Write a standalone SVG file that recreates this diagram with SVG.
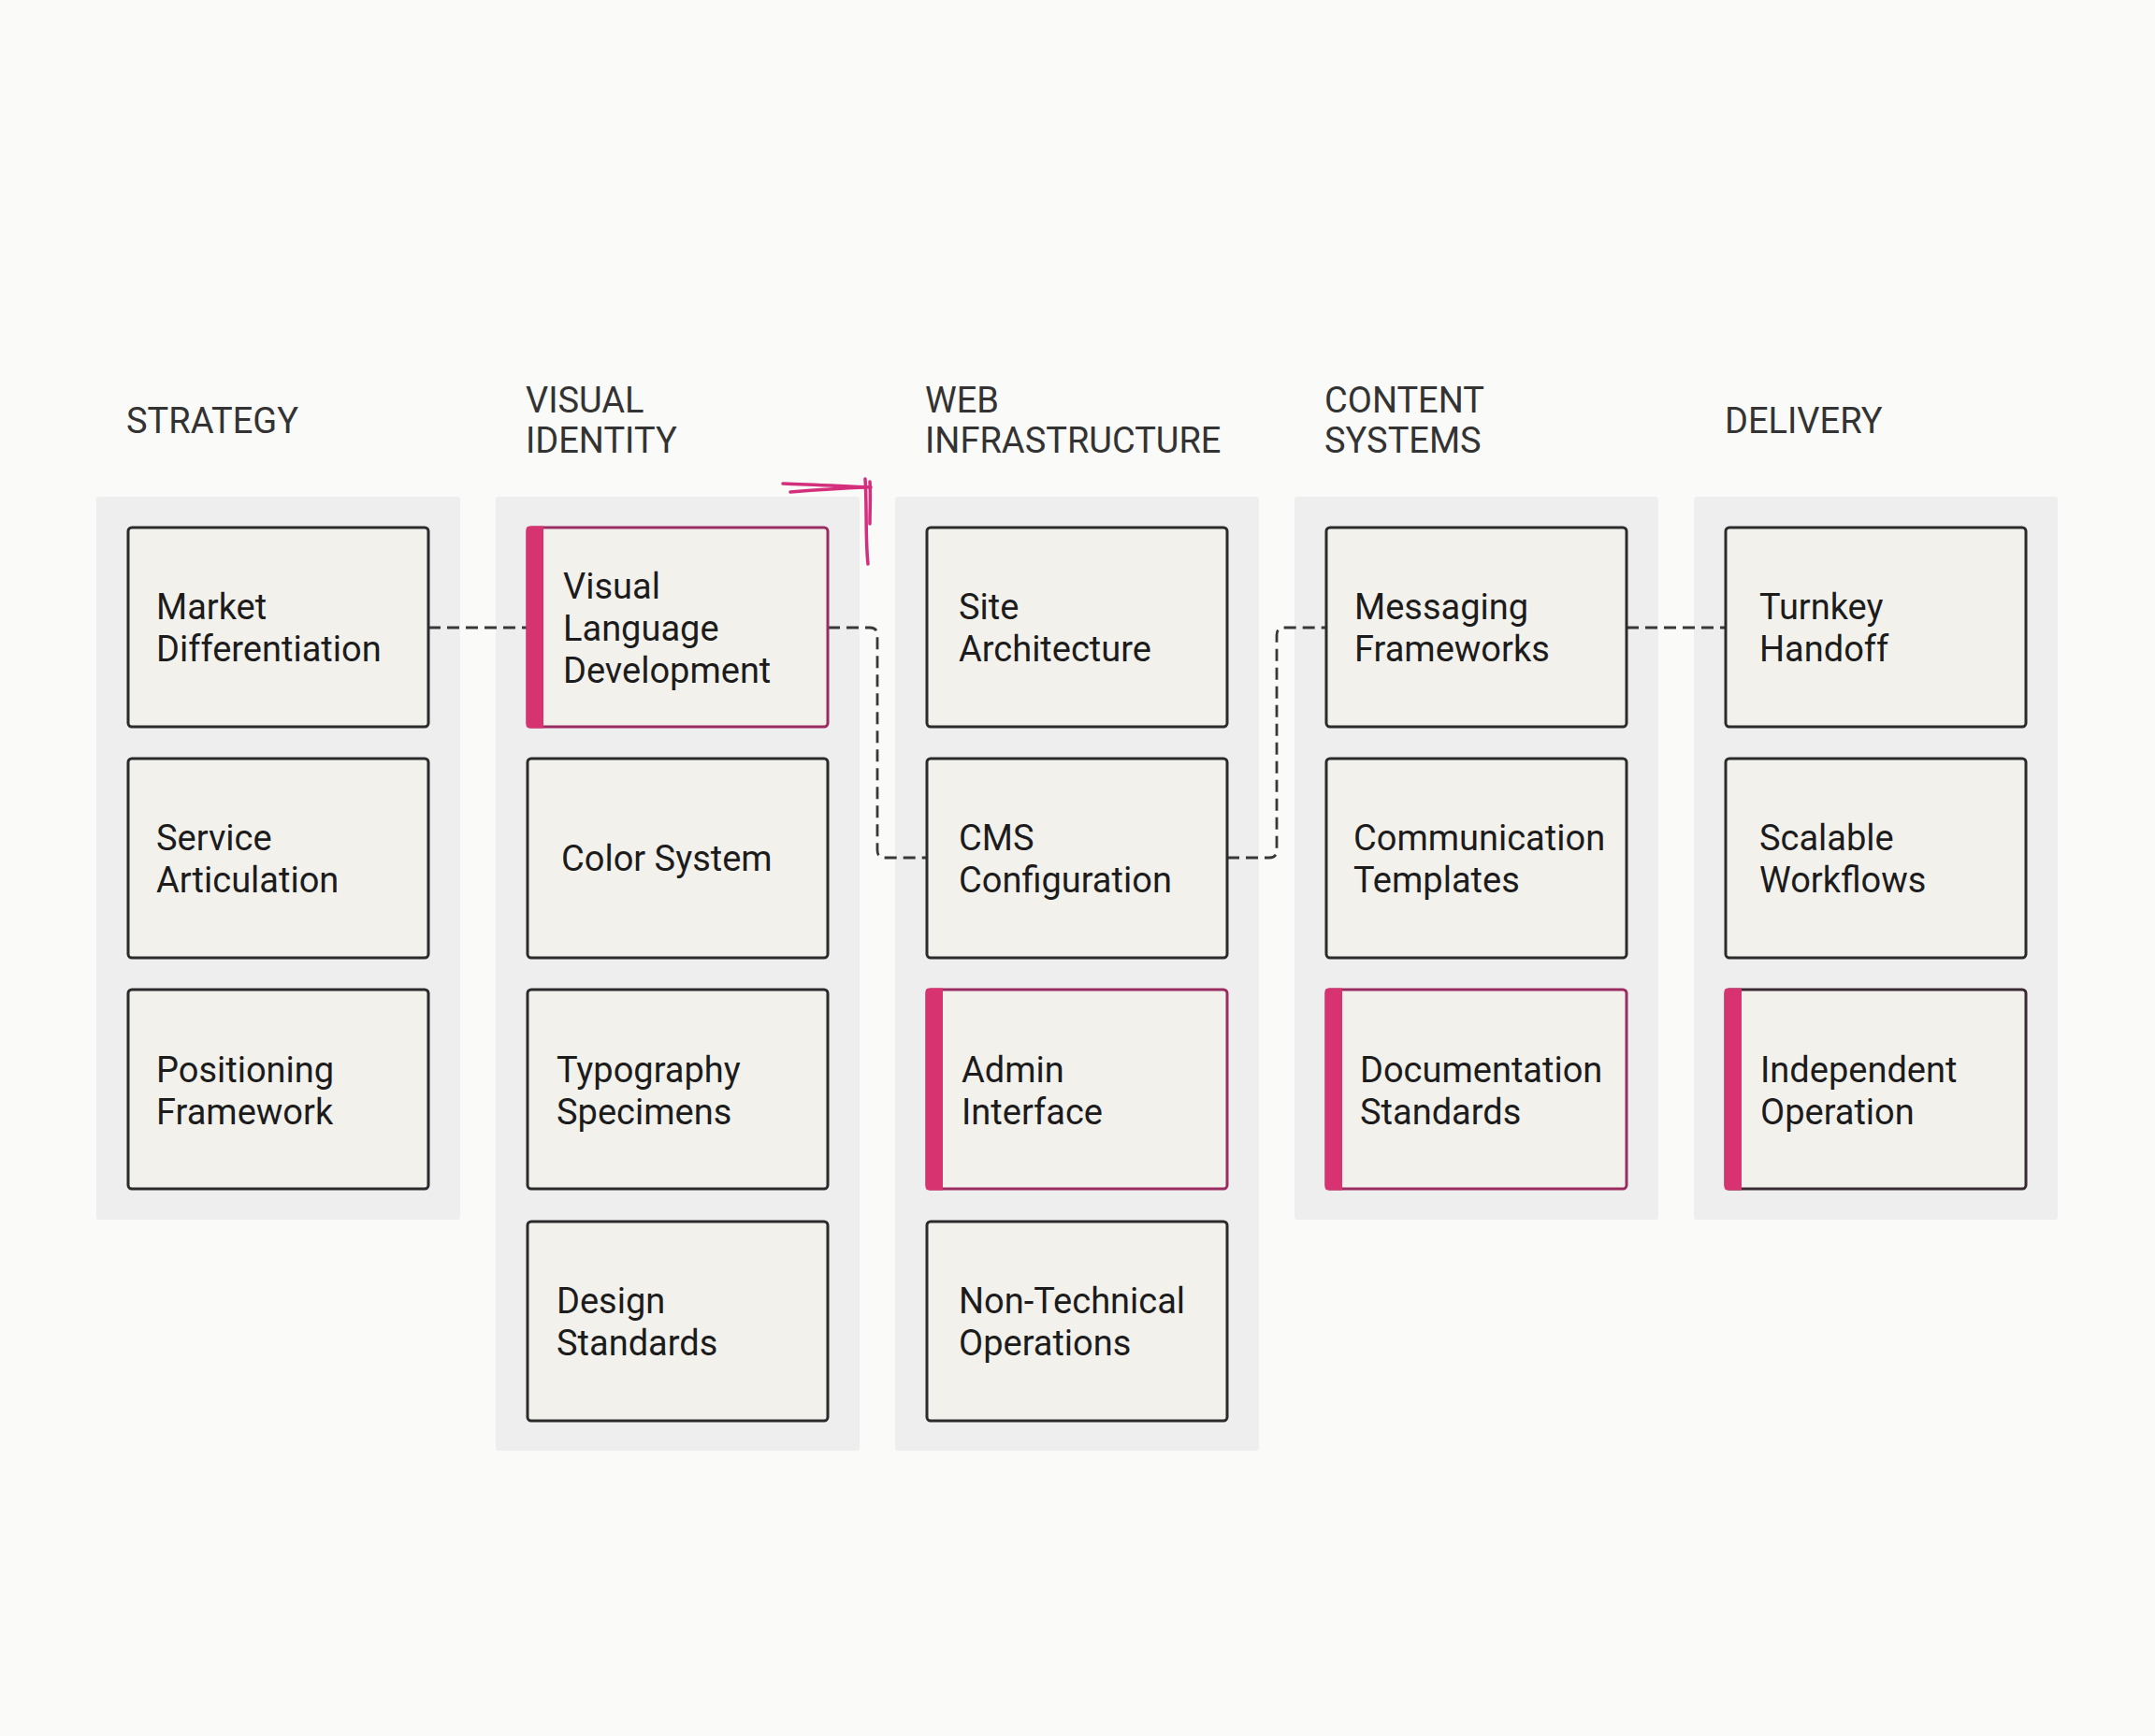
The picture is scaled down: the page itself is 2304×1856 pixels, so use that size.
<svg xmlns="http://www.w3.org/2000/svg" width="2304" height="1856" viewBox="0 0 2304 1856">
<style>
.bg{fill:#fafaf8}
.panel{fill:#eeeeee}
.box{fill:#f3f1ec;stroke:#2b2b2b;stroke-width:3}
.hl{fill:#f3f1ec;stroke:#9a2c62;stroke-width:3}
.hl2{fill:#f3f1ec;stroke:#3a2a32;stroke-width:3}
.bar{fill:#d63370}
.hdr{font-family:Roboto,'Liberation Sans',sans-serif;font-size:38px;fill:#333333}
.lbl{font-family:Roboto,'Liberation Sans',sans-serif;font-size:38px;fill:#1c1c1c}
.conn{fill:none;stroke:#383838;stroke-width:2.8;stroke-dasharray:13 7}
.mark{fill:none;stroke:#d42f7d;stroke-width:3.5;stroke-linecap:round}
</style>
<rect class="bg" x="0" y="0" width="2304" height="1856"/>

<g id="headers">
<text class="hdr" x="135" y="463">STRATEGY</text>
<text class="hdr" x="562" y="441">VISUAL</text>
<text class="hdr" x="562" y="484">IDENTITY</text>
<text class="hdr" x="989" y="441">WEB</text>
<text class="hdr" x="989" y="484">INFRASTRUCTURE</text>
<text class="hdr" x="1416" y="441">CONTENT</text>
<text class="hdr" x="1416" y="484">SYSTEMS</text>
<text class="hdr" x="1844" y="463">DELIVERY</text>
</g>

<g id="panels">
<rect id="panel-strategy" class="panel" x="103" y="531" width="389" height="773" rx="3"/>
<rect id="panel-visual" class="panel" x="530" y="531" width="389" height="1020" rx="3"/>
<rect id="panel-web" class="panel" x="957" y="531" width="389" height="1020" rx="3"/>
<rect id="panel-content" class="panel" x="1384" y="531" width="389" height="773" rx="3"/>
<rect id="panel-delivery" class="panel" x="1811" y="531" width="389" height="773" rx="3"/>
</g>

<g id="connectors">
<path class="conn" d="M458,671 H564"/>
<path class="conn" d="M885,671 H930 Q938,671 938,679 V909 Q938,917 946,917 H991"/>
<path class="conn" d="M1312,917 H1357 Q1365,917 1365,909 V679 Q1365,671 1373,671 H1418"/>
<path class="conn" d="M1739,671 H1845"/>
</g>

<g id="node-market-differentiation">
<rect class="box" x="137" y="564" width="321" height="213" rx="4"/>
<text class="lbl" x="167" y="662">Market</text>
<text class="lbl" x="167" y="707">Differentiation</text>
</g>
<g id="node-service-articulation">
<rect class="box" x="137" y="811" width="321" height="213" rx="4"/>
<text class="lbl" x="167" y="909">Service</text>
<text class="lbl" x="167" y="954">Articulation</text>
</g>
<g id="node-positioning-framework">
<rect class="box" x="137" y="1058" width="321" height="213" rx="4"/>
<text class="lbl" x="167" y="1157">Positioning</text>
<text class="lbl" x="167" y="1202">Framework</text>
</g>

<g id="node-visual-language-development">
<rect class="hl" x="564" y="564" width="321" height="213" rx="4"/>
<path class="bar" d="M562.5,566.5 Q562.5,562.5 566.5,562.5 H581 V778.5 H566.5 Q562.5,778.5 562.5,774.5 Z"/>
<text class="lbl" x="602" y="640">Visual</text>
<text class="lbl" x="602" y="685">Language</text>
<text class="lbl" x="602" y="730">Development</text>
</g>
<g id="node-color-system">
<rect class="box" x="564" y="811" width="321" height="213" rx="4"/>
<text class="lbl" x="600" y="931">Color System</text>
</g>
<g id="node-typography-specimens">
<rect class="box" x="564" y="1058" width="321" height="213" rx="4"/>
<text class="lbl" x="595" y="1157">Typography</text>
<text class="lbl" x="595" y="1202">Specimens</text>
</g>
<g id="node-design-standards">
<rect class="box" x="564" y="1306" width="321" height="213" rx="4"/>
<text class="lbl" x="595" y="1404">Design</text>
<text class="lbl" x="595" y="1449">Standards</text>
</g>

<g id="node-site-architecture">
<rect class="box" x="991" y="564" width="321" height="213" rx="4"/>
<text class="lbl" x="1025" y="662">Site</text>
<text class="lbl" x="1025" y="707">Architecture</text>
</g>
<g id="node-cms-configuration">
<rect class="box" x="991" y="811" width="321" height="213" rx="4"/>
<text class="lbl" x="1025" y="909">CMS</text>
<text class="lbl" x="1025" y="954">Configuration</text>
</g>
<g id="node-admin-interface">
<rect class="hl" x="991" y="1058" width="321" height="213" rx="4"/>
<path class="bar" d="M989.5,1060.5 Q989.5,1056.5 993.5,1056.5 H1008 V1272.5 H993.5 Q989.5,1272.5 989.5,1268.5 Z"/>
<text class="lbl" x="1028" y="1157">Admin</text>
<text class="lbl" x="1028" y="1202">Interface</text>
</g>
<g id="node-non-technical-operations">
<rect class="box" x="991" y="1306" width="321" height="213" rx="4"/>
<text class="lbl" x="1025" y="1404">Non-Technical</text>
<text class="lbl" x="1025" y="1449">Operations</text>
</g>

<g id="node-messaging-frameworks">
<rect class="box" x="1418" y="564" width="321" height="213" rx="4"/>
<text class="lbl" x="1448" y="662">Messaging</text>
<text class="lbl" x="1448" y="707">Frameworks</text>
</g>
<g id="node-communication-templates">
<rect class="box" x="1418" y="811" width="321" height="213" rx="4"/>
<text class="lbl" x="1447" y="909">Communication</text>
<text class="lbl" x="1447" y="954">Templates</text>
</g>
<g id="node-documentation-standards">
<rect class="hl" x="1418" y="1058" width="321" height="213" rx="4"/>
<path class="bar" d="M1416.5,1060.5 Q1416.5,1056.5 1420.5,1056.5 H1435 V1272.5 H1420.5 Q1416.5,1272.5 1416.5,1268.5 Z"/>
<text class="lbl" x="1454" y="1157">Documentation</text>
<text class="lbl" x="1454" y="1202">Standards</text>
</g>

<g id="node-turnkey-handoff">
<rect class="box" x="1845" y="564" width="321" height="213" rx="4"/>
<text class="lbl" x="1881" y="662">Turnkey</text>
<text class="lbl" x="1881" y="707">Handoff</text>
</g>
<g id="node-scalable-workflows">
<rect class="box" x="1845" y="811" width="321" height="213" rx="4"/>
<text class="lbl" x="1881" y="909">Scalable</text>
<text class="lbl" x="1881" y="954">Workflows</text>
</g>
<g id="node-independent-operation">
<rect class="hl2" x="1845" y="1058" width="321" height="213" rx="4"/>
<path class="bar" d="M1843.5,1060.5 Q1843.5,1056.5 1847.5,1056.5 H1862 V1272.5 H1847.5 Q1843.5,1272.5 1843.5,1268.5 Z"/>
<text class="lbl" x="1882" y="1157">Independent</text>
<text class="lbl" x="1882" y="1202">Operation</text>
</g>

<g id="annotation-mark">
<path class="mark" d="M837,517 C870,518 905,520 931,521"/>
<path class="mark" d="M845,526 C870,524 900,522 925,521"/>
<path class="mark" d="M925,512 C927,540 925,575 928,603"/>
<path class="mark" d="M930,515 C931,530 930,545 930,560"/>
</g>
</svg>
